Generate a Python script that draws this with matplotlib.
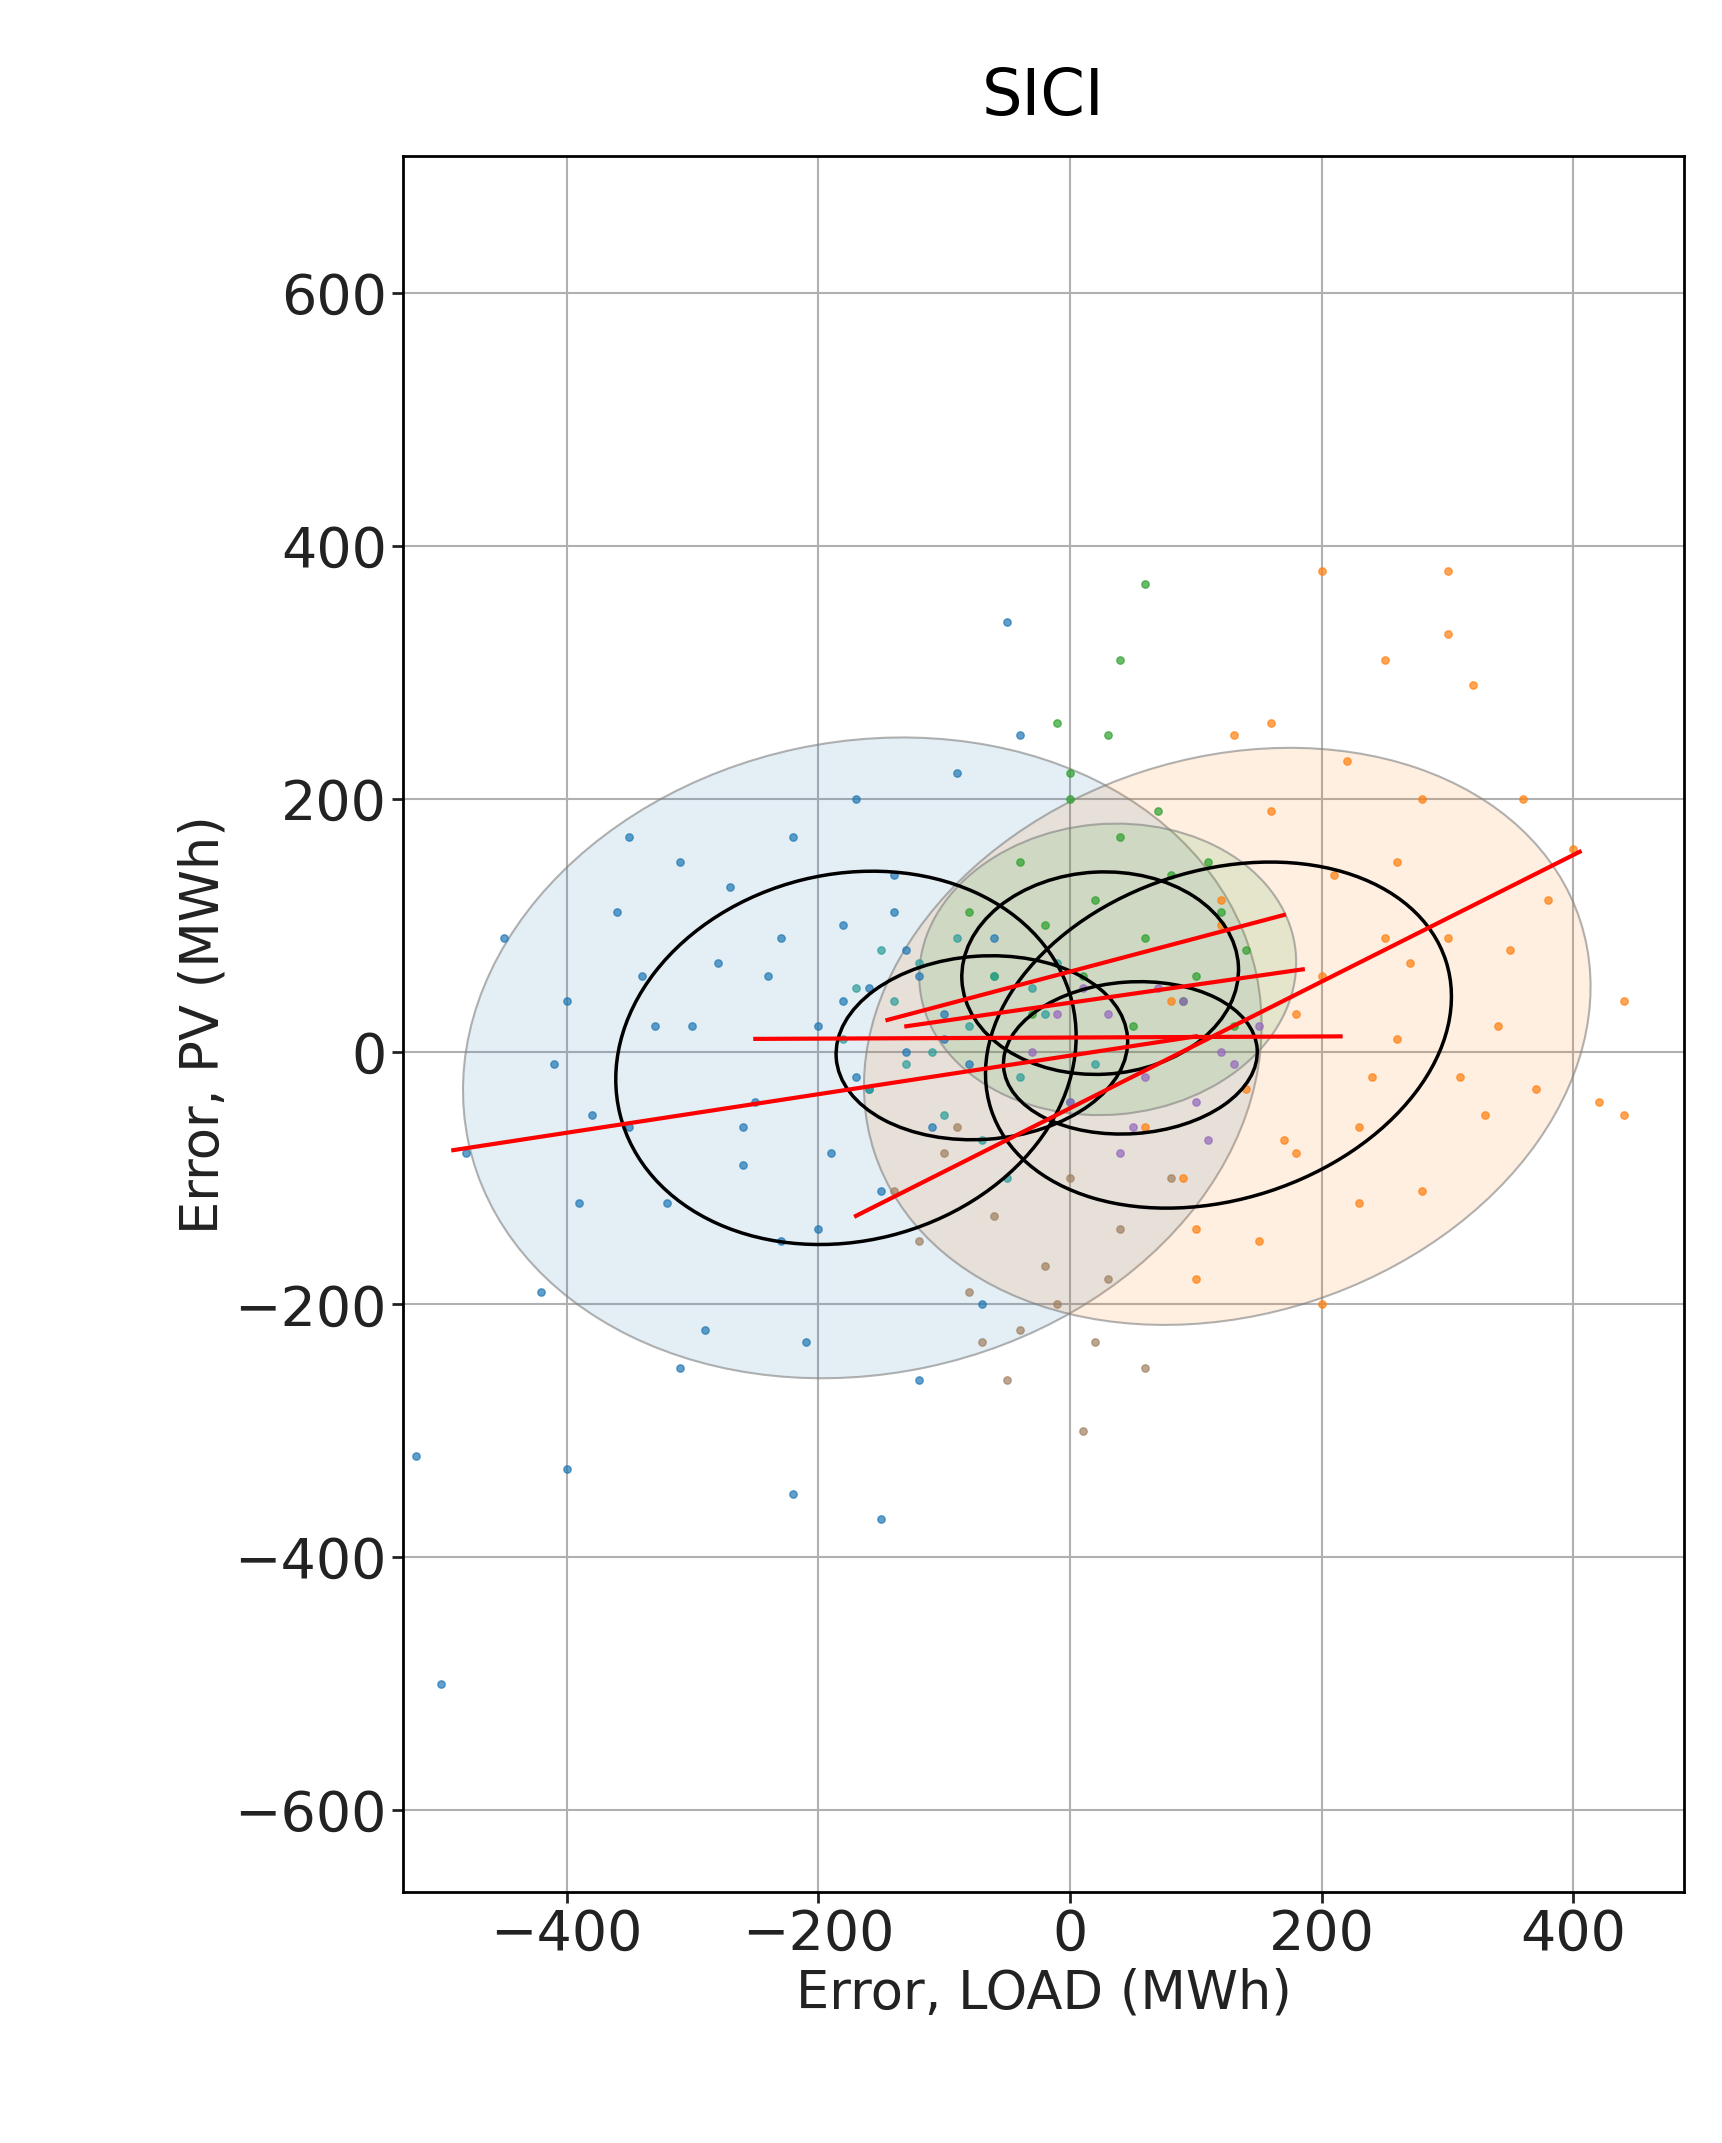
import numpy as np
import matplotlib.pyplot as plt
from matplotlib.patches import Ellipse

# approximate points, per cluster (load error, pv error)
blue_x = [-480, -450, -420, -400, -380, -360, -340, -320, -300, -290, -270, -250, -240, -230, -220, -200, -190, -180, -170, -160, -150, -140, -130, -120, -110, -100, -90, -80, -60, -50, -410, -390, -350, -330, -310, -280, -260, -210, -180, -160, -140, -120, -100, -520, -500, -400, -220, -150, -70, -40, -310, -260, -230, -350, -200, -170, -130]
blue_y = [-80, 90, -190, 40, -50, 110, 60, -120, 20, -220, 130, -40, 60, -150, 170, 20, -80, 100, -20, 50, -110, 140, 0, 60, -60, 30, 220, -10, 90, 340, -10, -120, -60, 20, 150, 70, -90, -230, 40, -30, 110, -260, 10, -320, -500, -330, -350, -370, -200, 250, -250, -60, 90, 170, -140, 200, 80]
orange_x = [60, 80, 100, 120, 140, 160, 180, 200, 220, 240, 260, 280, 300, 320, 340, 360, 380, 400, 420, 440, 100, 150, 200, 250, 300, 350, 120, 180, 230, 270, 310, 160, 210, 260, 200, 230, 280, 330, 370, 130, 90, 170, 250, 300, 440]
orange_y = [-60, 40, -140, 100, -30, 190, -80, 60, 230, -20, 150, -110, 90, 290, 20, 200, 120, 160, -40, 40, -180, -150, -200, 310, 330, 80, 120, 30, -60, 70, -20, 260, 140, 10, 380, -120, 200, -50, -30, 250, -100, -70, 90, 380, -50]
green_x = [-60, -40, -20, 0, 20, 40, 60, 80, 100, 120, 140, -30, 10, 50, 90, 130, -80, 30, 70, 110, -10, 40, 0, 60]
green_y = [60, 150, 100, 200, 120, 170, 90, 140, 60, 110, 80, 30, 60, 20, 40, 20, 110, 250, 190, 150, 260, 310, 220, 370]
teal_x = [-180, -160, -140, -120, -100, -80, -60, -40, -20, 0, -150, -110, -70, -30, -130, -90, -50, -170, -10, 20]
teal_y = [10, -30, 40, 70, -50, 20, 60, -20, 30, -40, 80, 0, -70, 50, -10, 90, -100, 50, 70, -10]
purple_x = [-30, 0, 30, 60, 90, 120, 150, 10, 50, 100, 130, 70, 40, -10, 110]
purple_y = [0, -40, 30, -20, 40, 0, 20, 50, -60, -40, -10, 50, -80, 30, -70]
brown_x = [-140, -120, -100, -80, -60, -40, -20, 0, 20, 40, 60, -90, -50, -10, 30, 80, -70, 10]
brown_y = [-110, -150, -80, -190, -130, -220, -170, -100, -230, -140, -250, -60, -260, -200, -180, -100, -230, -300]

# shaded ellipses: center x, center y, width, height, angle
shade_ell = [(-165, -5, 640, 500, 12, 'tab:blue'),
             (125, 12, 590, 440, 18, 'tab:orange'),
             (30, 65, 300, 230, 5, 'tab:green')]
black_ell = [(-178, -5, 370, 290, 14),
             (118, 13, 380, 260, 18),
             (24, 62, 220, 160, 3),
             (-70, 3, 232, 145, 4),
             (48, -5, 202, 120, 4)]
red_x0 = [-490, -170, -250, -145, -130]
red_y0 = [-78, -130, 10, 25, 20]
red_x1 = [100, 405, 215, 170, 185]
red_y1 = [12, 158, 12, 108, 65]

fig = plt.figure(figsize=(17.22, 21.43), dpi=100)
ax = fig.add_axes([0.234, 0.117, 0.744, 0.81])

for cx, cy, w, h, a, c in shade_ell:
    ax.add_patch(Ellipse((cx, cy), w, h, angle=a, facecolor=c, alpha=0.12,
                         edgecolor='none', zorder=1))
    ax.add_patch(Ellipse((cx, cy), w, h, angle=a, facecolor='none',
                         edgecolor='gray', lw=1.5, alpha=0.6, zorder=1))

ax.scatter(blue_x, blue_y, s=28, color='tab:blue', alpha=0.7, zorder=2)
ax.scatter(orange_x, orange_y, s=28, color='tab:orange', alpha=0.7, zorder=2)
ax.scatter(brown_x, brown_y, s=28, color='#a08060', alpha=0.7, zorder=2)
ax.scatter(green_x, green_y, s=28, color='tab:green', alpha=0.7, zorder=2)
ax.scatter(teal_x, teal_y, s=28, color='#2a9d9a', alpha=0.7, zorder=2)
ax.scatter(purple_x, purple_y, s=28, color='tab:purple', alpha=0.7, zorder=2)

for cx, cy, w, h, a in black_ell:
    ax.add_patch(Ellipse((cx, cy), w, h, angle=a, facecolor='none',
                         edgecolor='black', lw=2.5, zorder=3))

for x0, y0, x1, y1 in zip(red_x0, red_y0, red_x1, red_y1):
    ax.plot([x0, x1], [y0, y1], color='red', lw=3, zorder=4)

ax.set_xlim(-530, 488)
ax.set_ylim(-665, 708)
ax.set_xticks([-400, -200, 0, 200, 400])
ax.set_yticks([-600, -400, -200, 0, 200, 400, 600])
ax.grid(True, color='#b0b0b0', lw=1.5)
ax.set_axisbelow(True)
for s in ax.spines.values():
    s.set_linewidth(2)
ax.tick_params(labelsize=40, width=2, length=8, colors='#222222')
ax.set_xlabel('Error, LOAD (MWh)', fontsize=38, color='#222222')
ax.set_ylabel('Error, PV (MWh)', fontsize=38, color='#222222')
ax.set_title('SICI', fontsize=46, pad=30)

fig.savefig('out.png')
